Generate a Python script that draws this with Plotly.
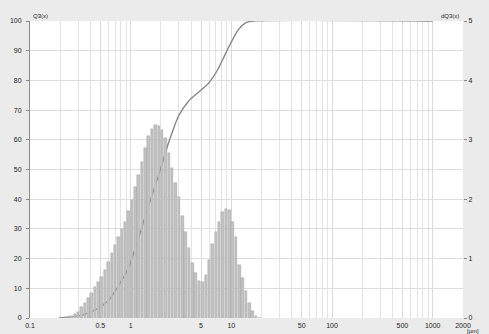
import plotly.graph_objects as go

# class edges (µm) of the size distribution
class_edges = [0.1995, 0.2154, 0.2326, 0.2512, 0.2712, 0.2929, 0.3162, 0.3415, 0.3687, 0.3981,
               0.4299, 0.4642, 0.5012, 0.5412, 0.5843, 0.6310, 0.6813, 0.7356, 0.7943, 0.8577,
               0.9261, 1.000, 1.080, 1.166, 1.259, 1.359, 1.468, 1.585, 1.711, 1.848,
               1.995, 2.154, 2.326, 2.512, 2.712, 2.929, 3.162, 3.415, 3.687, 3.981,
               4.299, 4.642, 5.012, 5.412, 5.843, 6.310, 6.813, 7.356, 7.943, 8.577,
               9.261, 10.00, 10.80, 11.66, 12.59, 13.59, 14.68, 15.85, 17.11, 18.48, 19.95]

# density dQ3(x) per class
dq3 = [0.00, 0.01, 0.02, 0.04, 0.06, 0.10, 0.18, 0.26, 0.33, 0.42,
       0.52, 0.61, 0.69, 0.80, 0.94, 1.09, 1.23, 1.36, 1.49, 1.62,
       1.80, 1.98, 2.20, 2.40, 2.63, 2.86, 3.07, 3.19, 3.25, 3.24,
       3.17, 3.03, 2.78, 2.52, 2.28, 2.03, 1.72, 1.45, 1.18, 0.93,
       0.76, 0.63, 0.60, 0.72, 0.98, 1.25, 1.45, 1.62, 1.78, 1.83,
       1.82, 1.62, 1.36, 0.90, 0.68, 0.45, 0.25, 0.12, 0.03, 0.00]

# cumulative Q3(x) curve
q3_size = [0.194, 0.306, 0.38, 0.482, 0.605, 0.761, 0.955, 1.20, 1.51, 1.89, 2.38, 2.99,
           3.75, 4.71, 5.92, 7.43, 9.34, 11.7, 14.1, 16.5, 1000]
q3_val = [0.0, 0.7, 1.7, 3.4, 6.0, 11.0, 17.0, 27.0, 38.0, 48.0, 59.0, 68.0,
          73.0, 76.0, 79.0, 84.0, 91.0, 97.0, 99.5, 100.0, 100.0]

x_tickvals = [0.1, 0.5, 1, 5, 10, 50, 100, 500, 1000, 2000]
x_ticktext = ["0.1", "0.5", "1", "5", "10", "50", "100", "500", "1000", "2000"]
q_ticks = [0, 10, 20, 30, 40, 50, 60, 70, 80, 90, 100]
dq_ticks = [0, 1, 2, 3, 4, 5]

lower = class_edges[:-1]
widths = [0.74 * (b - a) for a, b in zip(class_edges[:-1], class_edges[1:])]

FONT = "Liberation Sans"
fig = go.Figure()
fig.add_trace(go.Bar(x=lower, y=dq3, width=widths, offset=0, yaxis="y2",
                     marker=dict(color="#c2c2c2", line=dict(color="#9a9a9a", width=0.4)),
                     hoverinfo="skip"))
fig.add_trace(go.Scatter(x=q3_size, y=q3_val, mode="lines",
                         line=dict(color="#858585", width=1.4, shape="spline", smoothing=0.6),
                         hoverinfo="skip"))

fig.update_layout(
    width=489, height=334,
    margin=dict(l=30, r=26, t=21, b=16, autoexpand=False),
    paper_bgcolor="#ebebeb", plot_bgcolor="#ffffff",
    showlegend=False, bargap=0,
    font=dict(family=FONT, size=7, color="#222222"),
    xaxis=dict(type="log", range=[-1, 3.30103], tickvals=x_tickvals, ticktext=x_ticktext,
               showgrid=True, gridcolor="#dadada", gridwidth=1, automargin=False,
               minor=dict(dtick="D1", showgrid=True, gridcolor="#e4e4e4", ticks=""),
               ticks="", showline=False, zeroline=False, ticklabelstandoff=2,
               tickfont=dict(size=7, color="#222222")),
    yaxis=dict(range=[0, 100], tickvals=q_ticks, showgrid=True, gridcolor="#dedede", automargin=False,
               ticks="outside", ticklen=3, tickcolor="#888888", showline=True, linecolor="#8a8a8a",
               zeroline=False, tickfont=dict(size=7, color="#222222"), ticklabelstandoff=3),
    yaxis2=dict(range=[0, 5], tickvals=dq_ticks, overlaying="y", side="right", showgrid=False,
                automargin=False, ticks="outside", ticklen=3, tickcolor="#888888", showline=False,
                zeroline=False, tickfont=dict(size=7, color="#222222")),
    annotations=[
        dict(text="Q3(x)", xref="paper", yref="paper", x=0.0, y=1.0, xanchor="left", yanchor="bottom",
             showarrow=False, font=dict(size=6, color="#222222"), xshift=1),
        dict(text="dQ3(x)", xref="paper", yref="paper", x=1.0, y=1.0, xanchor="right", yanchor="bottom",
             showarrow=False, font=dict(size=6, color="#222222"), xshift=-2),
        dict(text="[µm]", xref="paper", yref="paper", x=1.0, y=0.0, xanchor="left", yanchor="top",
             showarrow=False, font=dict(size=6, color="#222222"), xshift=2, yshift=-8),
    ],
)

fig.write_html("out.html", config={"displayModeBar": False},
               post_script="document.body.style.margin='0';")
